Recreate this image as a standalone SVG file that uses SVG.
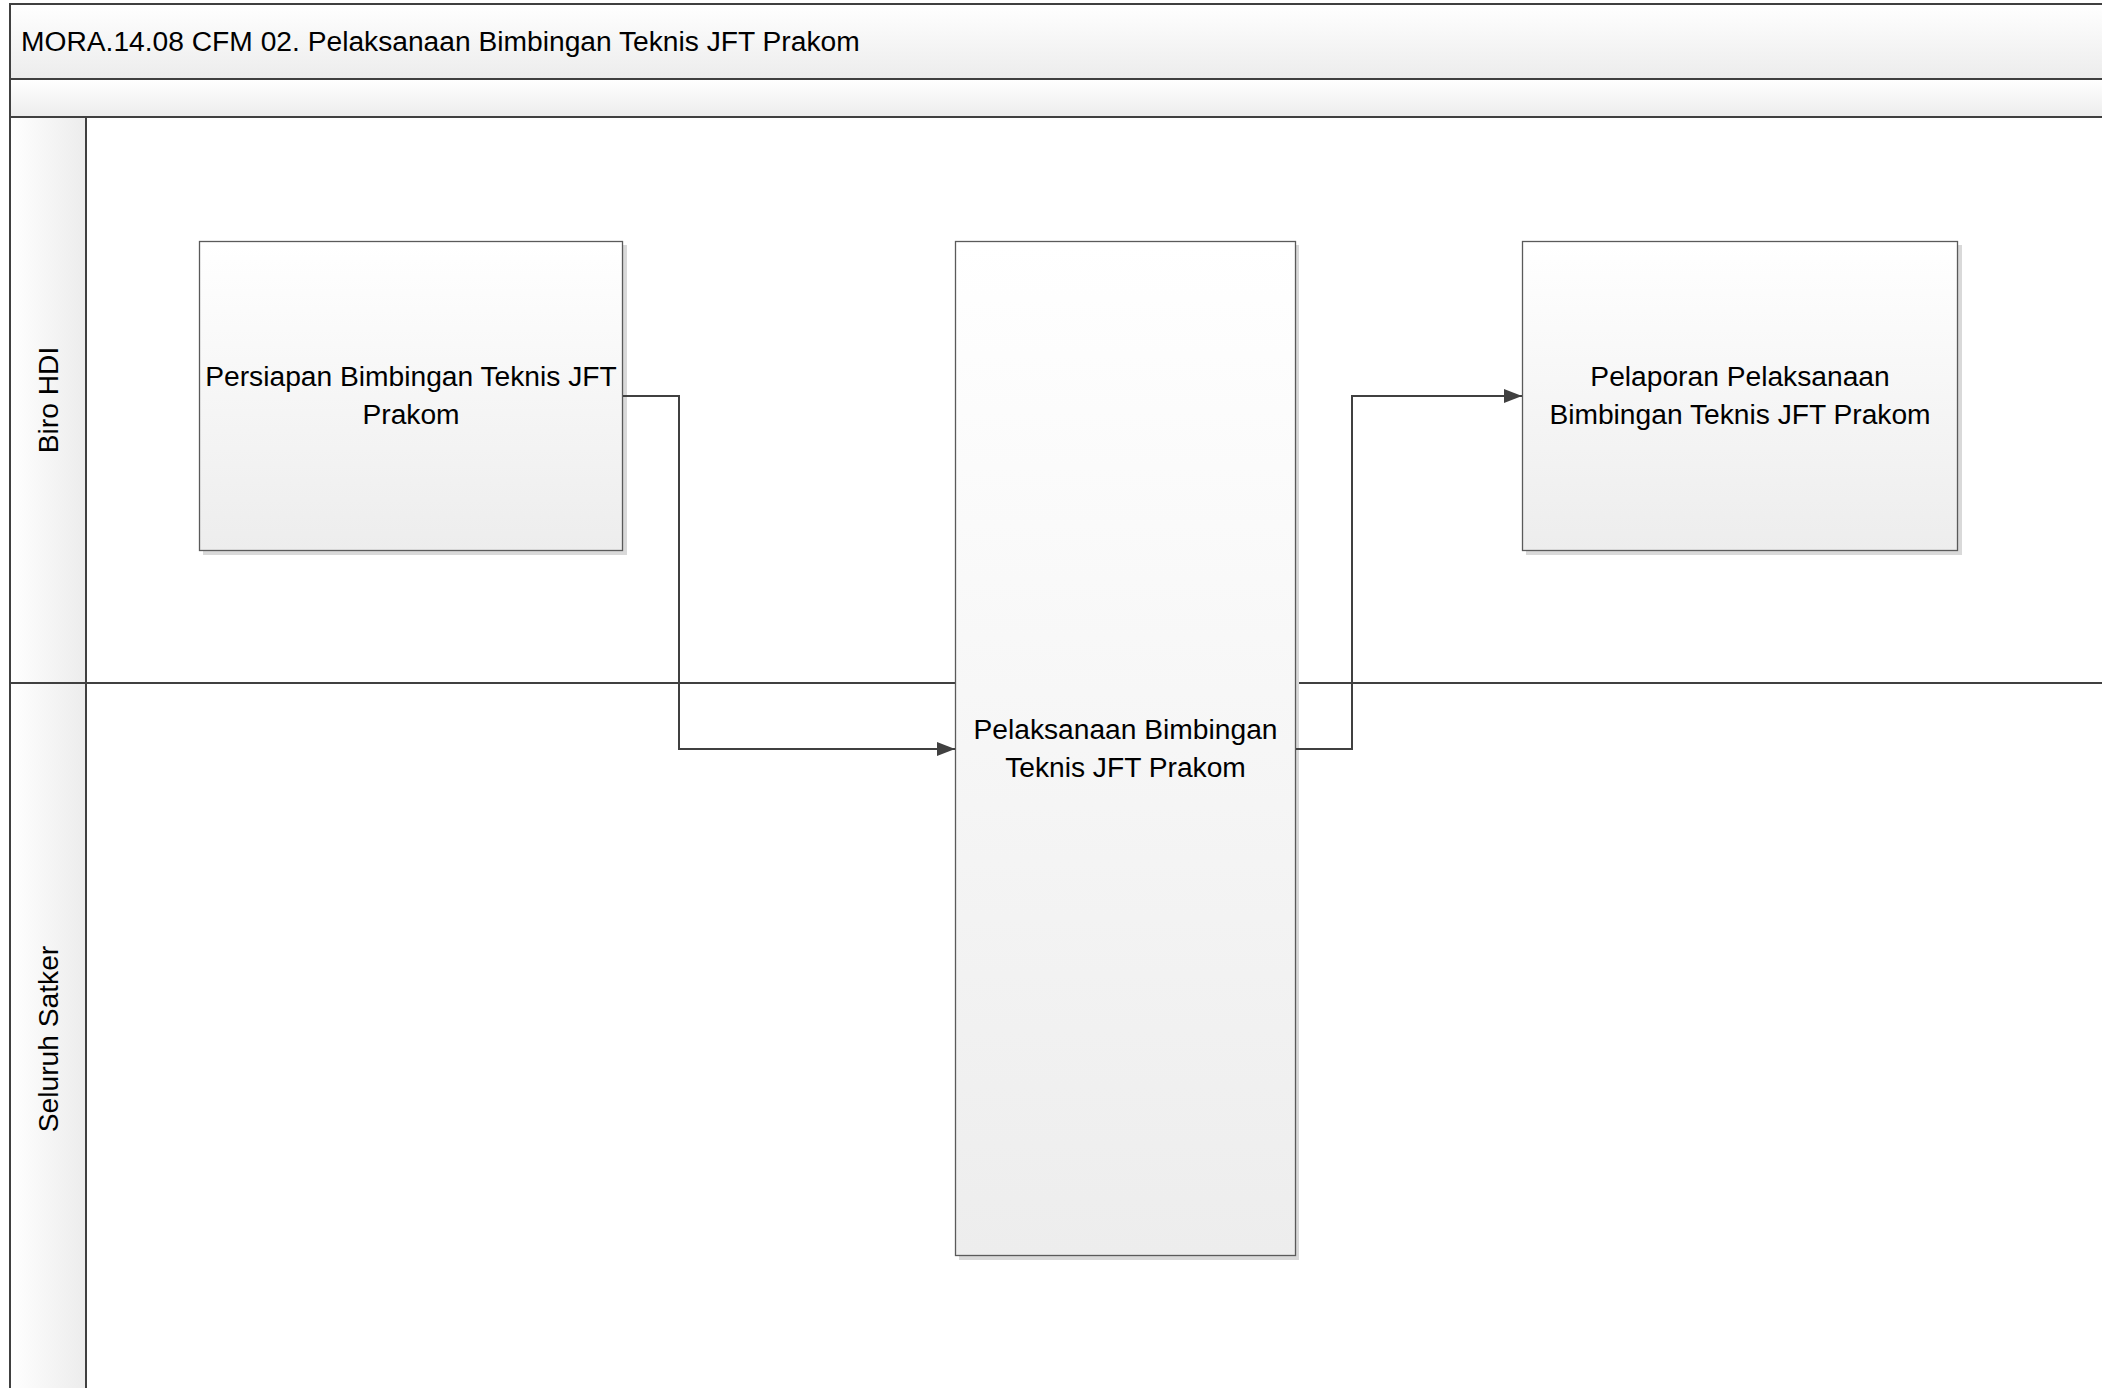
<svg xmlns="http://www.w3.org/2000/svg" width="2102" height="1388" viewBox="0 0 2102 1388">
<style>
.frame{fill:none;stroke:#404040;stroke-width:2}
.box{stroke:#5a5a5a;stroke-width:1.3;fill:url(#boxg)}
.shadow{fill:#d9d9d9}
.t{font-family:"Liberation Sans",Arial,sans-serif;font-size:28.2px;fill:#000}
.c{text-anchor:middle}
.conn{fill:none;stroke:#404040;stroke-width:2}
</style>
<defs>
<linearGradient id="boxg" x1="0" y1="0" x2="0" y2="1"><stop offset="0" stop-color="#ffffff"/><stop offset="1" stop-color="#ededed"/></linearGradient>
<linearGradient id="bandg" x1="0" y1="0" x2="0" y2="1"><stop offset="0" stop-color="#ffffff"/><stop offset="1" stop-color="#ececec"/></linearGradient>
<linearGradient id="laneg" x1="0" y1="0" x2="1" y2="0"><stop offset="0" stop-color="#ffffff"/><stop offset="1" stop-color="#ececec"/></linearGradient>
<marker id="arr" markerWidth="18" markerHeight="14" refX="18" refY="7" orient="auto" markerUnits="userSpaceOnUse"><path d="M0,0 L18,7 L0,14 Z" fill="#404040"/></marker>
</defs>
<rect width="2102" height="1388" fill="#ffffff"/>
<g id="pool">
<rect x="10" y="4" width="2100" height="75" fill="url(#bandg)"/>
<rect x="10" y="79" width="2100" height="38" fill="url(#bandg)"/>
<rect x="10" y="117" width="76" height="1280" fill="url(#laneg)"/>
<path class="frame" d="M2110,4 H10 V1400 M10,79 H2110 M10,117 H2110 M86,117 V1400 M10,683 H2110"/>
<text class="t" x="21" y="51">MORA.14.08 CFM 02. Pelaksanaan Bimbingan Teknis JFT Prakom</text>
</g>
<g id="lane-biro-hdi">
<text class="t c" transform="translate(58,400) rotate(-90)" x="0" y="0">Biro HDI</text>
</g>
<g id="lane-seluruh-satker">
<text class="t c" transform="translate(58,1039) rotate(-90)" x="0" y="0">Seluruh Satker</text>
</g>
<g id="node-persiapan">
<rect class="shadow" x="203" y="245" width="424" height="310"/>
<rect class="box" x="199.5" y="241.5" width="423" height="309"/>
<text class="t c" x="411" y="386">Persiapan Bimbingan Teknis JFT</text>
<text class="t c" x="411" y="423.5">Prakom</text>
</g>
<g id="node-pelaksanaan">
<rect class="shadow" x="959" y="245" width="340" height="1015"/>
<rect class="box" x="955.5" y="241.5" width="340" height="1014"/>
<text class="t c" x="1125.5" y="739">Pelaksanaan Bimbingan</text>
<text class="t c" x="1125.5" y="776.5">Teknis JFT Prakom</text>
</g>
<g id="node-pelaporan">
<rect class="shadow" x="1526" y="245" width="436" height="310"/>
<rect class="box" x="1522.5" y="241.5" width="435" height="309"/>
<text class="t c" x="1740" y="386">Pelaporan Pelaksanaan</text>
<text class="t c" x="1740" y="423.5">Bimbingan Teknis JFT Prakom</text>
</g>
<g id="connectors">
<path class="conn" d="M623,396 H679 V749 H955" marker-end="url(#arr)"/>
<path class="conn" d="M1296,749 H1352 V396 H1522" marker-end="url(#arr)"/>
</g>
</svg>
